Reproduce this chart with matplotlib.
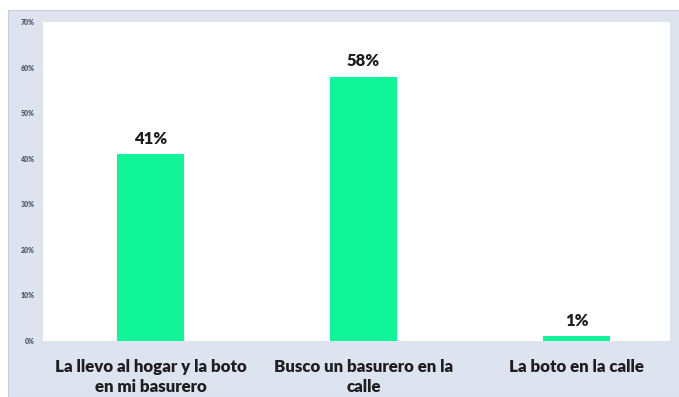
import matplotlib
matplotlib.use("Agg")
import matplotlib.pyplot as plt
from matplotlib.patches import Rectangle
from matplotlib.ticker import FuncFormatter

categories = ["La llevo al hogar y la boto\nen mi basurero",
              "Busco un basurero en la\ncalle",
              "La boto en la calle"]
values = [41, 58, 1]
value_labels = ["41%", "58%", "1%"]
y_ticks = [0, 10, 20, 30, 40, 50, 60, 70]

W, H = 679, 397
fig = plt.figure(figsize=(W / 100, H / 100), dpi=100)
fig.patch.set_facecolor("white")

# panel background with thin border
panel = Rectangle((8 / W, 0), 1 - 8 / W, 1 - 10 / H, transform=fig.transFigure,
                  facecolor="#dde4f0", edgecolor="#c8ccd4", linewidth=0.8, zorder=-5)
fig.patches.append(panel)

left, right, top, bottom = 43, 670, 22, 341
ax = fig.add_axes([left / W, 1 - bottom / H, (right - left) / W, (bottom - top) / H])
ax.set_zorder(2)
ax.set_facecolor("white")

x = list(range(len(categories)))
ax.bar(x, values, width=0.315, color="#0ff597", zorder=2)

for xi, v, lab in zip(x, values, value_labels):
    ax.text(xi, v + 1.6, lab, ha="center", va="bottom", fontsize=12,
            fontweight="heavy", color="#1e1e1e", family="Lato")

ax.set_xlim(-0.505, 2.439)
ax.set_ylim(0, 70)
ax.set_yticks(y_ticks)
ax.yaxis.set_major_formatter(FuncFormatter(lambda v, p: f"{int(v)}%"))
for t in ax.get_yticklabels():
    t.set_fontsize(5)
    t.set_fontweight("heavy")
    t.set_color("#4a5466")
    t.set_family("Lato")
ax.tick_params(axis="y", length=0, pad=6)

ax.set_xticks(x)
ax.set_xticklabels(categories, fontsize=12.2, fontweight="heavy",
                   color="#1e1e1e", family="Lato", linespacing=1.3)
ax.tick_params(axis="x", length=0, pad=13)

for s in ax.spines.values():
    s.set_visible(False)

fig.savefig("out.png", dpi=100, facecolor=fig.get_facecolor())
